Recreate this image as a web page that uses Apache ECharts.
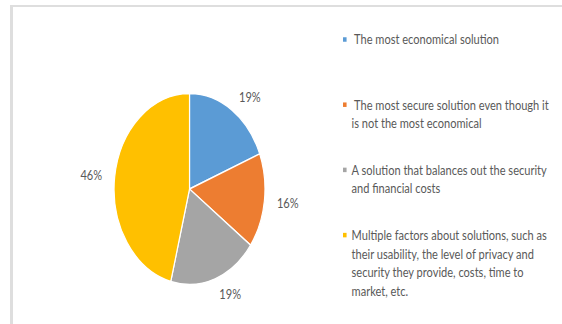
<!DOCTYPE html>
<html>
<head>
<meta charset="utf-8">
<script src="https://cdn.jsdelivr.net/npm/echarts@6/dist/echarts.min.js"></script>
<style>
  html, body { margin: 0; padding: 0; background: #fff; }
  #frame { position: absolute; left: 0; top: 0; width: 562px; height: 324px; overflow: hidden; background: #fff; }
  #border { position: absolute; left: 10px; top: 5px; right: 0; bottom: 0;
            border-left: 3px solid #dedede; border-top: 2px solid #dedede; }
  /* the figure is laid out wide and squeezed horizontally, which turns the pie into an ellipse */
  #chart { position: absolute; left: 0; top: 0; width: 711.4px; height: 324px;
           transform: scaleX(0.79); transform-origin: 0 0; }
</style>
</head>
<body>
<div id="frame">
  <div id="border"></div>
  <div id="chart"></div>
</div>
<script>
// Survey answers: which kind of solution is preferred
const categories = [
  ' The most economical solution',
  ' The most secure solution even though it\nis not the most economical',
  'A solution that balances out the security\nand financial costs',
  'Multiple factors about solutions, such as\ntheir usability, the level of privacy and\nsecurity they provide, costs, time to\nmarket, etc.'
];
const values = [19, 16, 19, 46];
const colors = ['#5B9BD5', '#ED7D31', '#A5A5A5', '#FFC000'];

const textColor = '#595959';
const fontFamily = 'Lato, "Liberation Sans", sans-serif';

// Legend entries: a small square followed by the wrapped category text
const legendTop = 39.5;
const legendStep = 65.2;
const legendLineHeight = 18.5;
const legendGraphics = [];
categories.forEach(function (name, i) {
  const cy = legendTop + i * legendStep;
  legendGraphics.push({
    type: 'rect',
    left: 434.2,
    top: cy - 2.25,
    shape: { width: 4.5, height: 4.5 },
    style: { fill: colors[i] },
    silent: true
  });
  legendGraphics.push({
    type: 'text',
    left: 445,
    top: cy - legendLineHeight / 2,
    style: {
      text: name,
      fill: textColor,
      font: '14px ' + fontFamily,
      lineHeight: legendLineHeight,
      verticalAlign: 'top'
    },
    silent: true
  });
});

const chart = echarts.init(document.getElementById('chart'), null, { renderer: 'svg' });
chart.setOption({
  animation: false,
  color: colors,
  graphic: legendGraphics,
  series: [{
    type: 'pie',
    center: [239.9, 189],
    radius: 95.5,
    startAngle: 90,
    clockwise: true,
    avoidLabelOverlap: false,
    itemStyle: { borderColor: '#ffffff', borderWidth: 1.5 },
    label: {
      show: true,
      position: 'outside',
      distanceToLabelLine: 0,
      color: textColor,
      fontFamily: fontFamily,
      fontSize: 14,
      formatter: function (p) { return Math.round(p.percent) + '%'; }
    },
    labelLine: { show: false, length: 16, length2: 0 },
    emphasis: { disabled: true },
    data: categories.map(function (name, i) {
      return { name: name, value: values[i] };
    })
  }]
});
</script>
</body>
</html>
